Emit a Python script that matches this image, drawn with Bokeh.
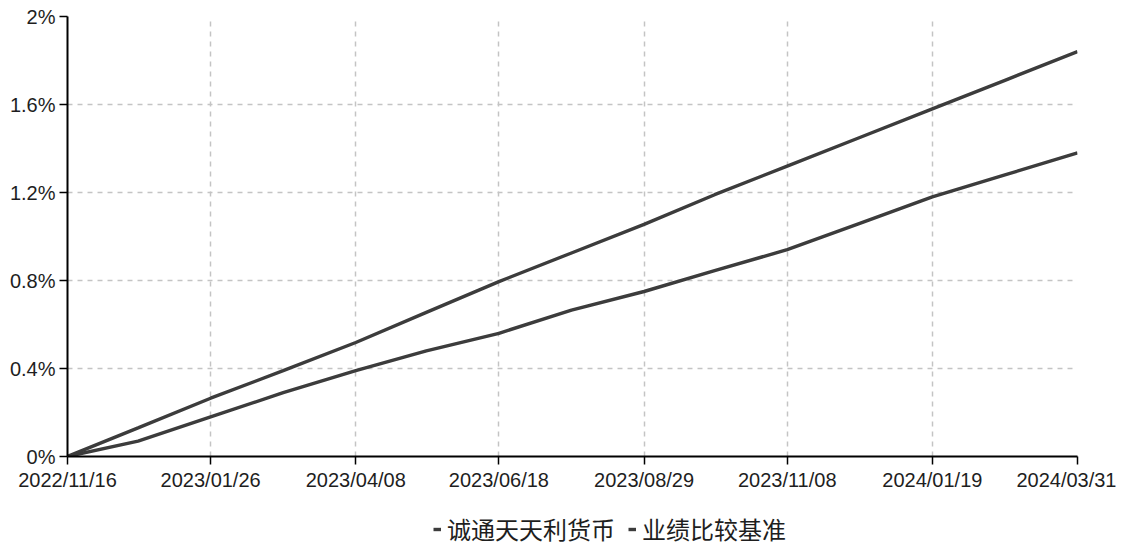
import pandas as pd
from bokeh.plotting import figure
from bokeh.layouts import column
from bokeh.models import (Range1d, FixedTicker, DatetimeTickFormatter, CustomJSTickFormatter,
                          Legend, LegendItem)
from bokeh.embed import file_html
from bokeh.resources import INLINE

# ---- data ----
dates = ["2022-11-16", "2022-12-21", "2023-01-26", "2023-03-03", "2023-04-08",
         "2023-05-13", "2023-06-18", "2023-07-24", "2023-08-29", "2023-10-03",
         "2023-11-08", "2023-12-14", "2024-01-19", "2024-02-24", "2024-03-31"]
fund = [0.0, 0.07, 0.18, 0.29, 0.39, 0.48, 0.56, 0.665, 0.75, 0.845,
        0.94, 1.06, 1.18, 1.28, 1.38]
benchmark = [0.0, 0.13, 0.265, 0.39, 0.518, 0.655, 0.795, 0.925, 1.055, 1.19,
             1.32, 1.45, 1.58, 1.71, 1.84]
x_tick_dates = ["2022-11-16", "2023-01-26", "2023-04-08", "2023-06-18",
                "2023-08-29", "2023-11-08", "2024-01-19", "2024-03-31"]
y_ticks = [0, 0.4, 0.8, 1.2, 1.6, 2.0]
series_names = ["诚通天天利货币", "业绩比较基准"]

x = pd.to_datetime(dates)
xt = pd.to_datetime(x_tick_dates)
tick_ms = [t.timestamp() * 1000 for t in xt]

line_color = "#3c3c3c"
line_w = 3.4

p = figure(width=1116, height=493, output_backend="svg", toolbar_location=None,
           x_axis_type="datetime",
           x_range=Range1d(tick_ms[0], tick_ms[-1]),
           y_range=Range1d(0, 2.0),
           min_border_left=67, min_border_right=39, min_border_top=16, min_border_bottom=35)
p.outline_line_color = None
p.background_fill_color = "white"

p.line(x, fund, line_color=line_color, line_width=line_w)
p.line(x, benchmark, line_color=line_color, line_width=line_w)

# axes
for ax in (p.xaxis[0], p.yaxis[0]):
    ax.axis_line_color = "black"
    ax.axis_line_width = 2
    ax.major_tick_line_color = "black"
    ax.major_tick_line_width = 1.5
    ax.major_tick_out = 8
    ax.major_tick_in = 0
    ax.minor_tick_line_color = None
    ax.major_label_text_font = "Liberation Sans"
    ax.major_label_text_font_size = "20px"
    ax.major_label_text_color = "#1e1e1e"

p.xaxis.ticker = FixedTicker(ticks=tick_ms)
fmt = "%Y/%m/%d"
p.xaxis.formatter = DatetimeTickFormatter(microseconds=fmt, milliseconds=fmt, seconds=fmt,
                                          minsec=fmt, minutes=fmt, hourmin=fmt, hours=fmt,
                                          days=fmt, months=fmt, years=fmt)
p.xaxis.major_label_standoff = 4

p.yaxis.ticker = FixedTicker(ticks=y_ticks)
p.yaxis.formatter = CustomJSTickFormatter(code="return tick.toFixed(1).replace('.0','') + '%';")
p.yaxis.major_label_standoff = 4

# grid
for g in (p.xgrid[0], p.ygrid[0]):
    g.grid_line_color = "#c4c4c4"
    g.grid_line_dash = "5 5"
    g.grid_line_width = 1.5
p.xgrid.ticker = FixedTicker(ticks=tick_ms)
p.ygrid.ticker = FixedTicker(ticks=y_ticks)

# ---- legend strip below the chart ----
lg = figure(width=1116, height=53, output_backend="svg", toolbar_location=None,
            x_axis_type="datetime",
            x_range=Range1d(tick_ms[0], tick_ms[-1]), y_range=Range1d(-10, -9),
            min_border_left=0, min_border_right=0, min_border_top=0, min_border_bottom=0)
lg.axis.visible = False
lg.grid.visible = False
lg.outline_line_color = None
# single-point lines (nothing visible in the strip) that only carry the legend styling
l1 = lg.line(x[:1], fund[:1], line_color=line_color, line_width=line_w)
l2 = lg.line(x[:1], benchmark[:1], line_color=line_color, line_width=line_w)

legend = Legend(items=[LegendItem(label=series_names[0], renderers=[l1]),
                       LegendItem(label=series_names[1], renderers=[l2])],
                orientation="horizontal", location=(366, 0),
                glyph_width=8, glyph_height=24, label_standoff=6, spacing=13,
                padding=0, margin=0,
                border_line_color=None, background_fill_alpha=0,
                label_text_font="Noto Sans CJK SC", label_text_font_size="24px",
                label_text_color="#1e1e1e")
lg.add_layout(legend, "center")

layout = column(p, lg, spacing=0)
open("out.html", "w").write(file_html(layout, INLINE))
